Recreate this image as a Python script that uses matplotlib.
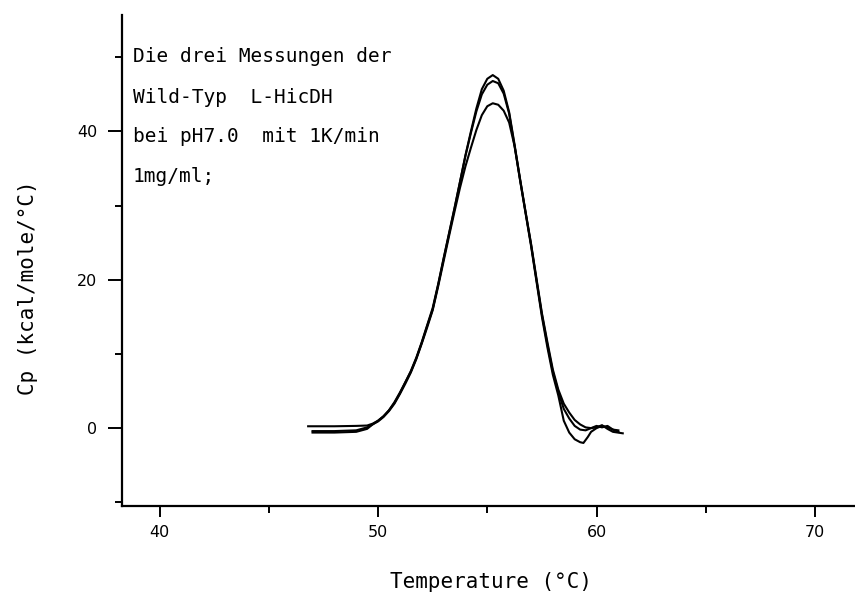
import matplotlib.pyplot as plt

# DSC scans of wild-type L-HicDH, three runs (temperature in deg C, Cp in kcal/mole/deg C)
t_run1 = [46.8, 48.0, 49.0, 49.5, 49.75, 50.0, 50.25, 50.5, 50.75, 51.0, 51.25, 51.5,
          51.75, 52.0, 52.25, 52.5, 52.75, 53.0, 53.25, 53.5, 53.75, 54.0, 54.25, 54.5,
          54.75, 55.0, 55.25, 55.5, 55.75, 56.0, 56.25, 56.5, 56.75, 57.0, 57.25, 57.5,
          57.75, 58.0, 58.25, 58.5, 58.75, 59.0, 59.25, 59.5, 59.75, 60.0, 60.25, 60.5,
          60.75, 61.2]
cp_run1 = [0.25, 0.25, 0.3, 0.35, 0.6, 1.0, 1.6, 2.4, 3.4, 4.7, 6.2, 7.6,
           9.4, 11.5, 13.8, 16.0, 19.3, 22.8, 26.2, 29.6, 33.2, 36.8, 40.0, 43.1,
           45.7, 47.1, 47.6, 47.1, 45.5, 42.6, 38.2, 33.6, 29.2, 24.9, 20.2, 15.5,
           11.6, 7.9, 5.2, 3.3, 2.1, 1.1, 0.5, 0.1, 0.0, 0.1, 0.4, -0.1,
           -0.5, -0.7]

t_run2 = [47.0, 48.0, 49.0, 49.5, 49.75, 50.0, 50.25, 50.5, 50.75, 51.0, 51.25, 51.5,
          51.75, 52.0, 52.25, 52.5, 52.75, 53.0, 53.25, 53.5, 53.75, 54.0, 54.25, 54.5,
          54.75, 55.0, 55.25, 55.5, 55.75, 56.0, 56.25, 56.5, 56.75, 57.0, 57.25, 57.5,
          57.75, 58.0, 58.25, 58.5, 58.75, 59.0, 59.25, 59.5, 59.75, 60.0, 60.25, 60.5,
          60.75, 61.0]
cp_run2 = [-0.6, -0.6, -0.5, -0.1, 0.5, 1.0, 1.6, 2.4, 3.5, 4.8, 6.2, 7.7,
           9.5, 11.6, 13.9, 16.2, 19.4, 22.9, 26.3, 29.7, 33.2, 36.7, 39.8, 42.7,
           45.0, 46.3, 46.8, 46.5, 45.1, 42.4, 38.0, 33.5, 29.1, 24.8, 20.0, 15.3,
           11.3, 7.6, 4.9, 2.6, 1.3, 0.3, -0.2, -0.3, 0.0, 0.3, 0.1, 0.3,
           -0.2, -0.3]

t_run3 = [47.0, 48.0, 49.0, 49.5, 49.75, 50.0, 50.25, 50.5, 50.75, 51.0, 51.25, 51.5,
          51.75, 52.0, 52.25, 52.5, 52.75, 53.0, 53.25, 53.5, 53.75, 54.0, 54.25, 54.5,
          54.75, 55.0, 55.25, 55.5, 55.75, 56.0, 56.25, 56.5, 56.75, 57.0, 57.25, 57.5,
          57.75, 58.0, 58.25, 58.5, 58.75, 59.0, 59.25, 59.4, 59.6, 59.75, 60.0, 60.25,
          60.5, 60.75, 61.0]
cp_run3 = [-0.4, -0.4, -0.3, 0.1, 0.5, 0.9, 1.5, 2.3, 3.3, 4.6, 6.0, 7.5,
           9.3, 11.4, 13.6, 15.9, 19.1, 22.5, 25.9, 29.2, 32.4, 35.3, 37.8, 40.2,
           42.2, 43.4, 43.8, 43.6, 42.8, 41.2, 38.0, 33.4, 29.0, 24.6, 19.8, 15.0,
           10.9, 7.2, 4.4, 1.0, -0.6, -1.5, -1.9, -2.0, -1.2, -0.5, 0.0, 0.3,
           0.1, -0.2, -0.5]

note_lines = ["Die drei Messungen der", "Wild-Typ  L-HicDH",
              "bei pH7.0  mit 1K/min", "1mg/ml;"]
note_y = [0.904, 0.821, 0.741, 0.660]

xticks_major = [40, 50, 60, 70]
xticks_minor = [45, 55, 65]
yticks_major = [0, 20, 40]
yticks_minor = [-10, 10, 30, 50]

plt.rcParams['font.family'] = ['DejaVu Sans']
mono = 'DejaVu Sans Mono'

fig = plt.figure(figsize=(8.55, 5.94), dpi=100)
ax = fig.add_axes([122 / 855, 88 / 594, 733 / 855, 491 / 594])

for t, cp in [(t_run1, cp_run1), (t_run2, cp_run2), (t_run3, cp_run3)]:
    ax.plot(t, cp, color='black', lw=1.5)

ax.set_xlim(38.28, 71.83)
ax.set_ylim(-10.5, 55.7)
ax.set_xticks(xticks_major)
ax.set_xticks(xticks_minor, minor=True)
ax.set_yticks(yticks_major)
ax.set_yticks(yticks_minor, minor=True)

for side in ['top', 'right']:
    ax.spines[side].set_visible(False)
for side in ['left', 'bottom']:
    ax.spines[side].set_linewidth(1.6)

ax.tick_params(axis='y', which='major', length=10, width=1.4, pad=8, labelsize=11.5)
ax.tick_params(axis='y', which='minor', length=5, width=1.4)
ax.tick_params(axis='x', which='major', length=8, width=1.4, pad=6, labelsize=11.5)
ax.tick_params(axis='x', which='minor', length=5, width=1.4)

for line, y in zip(note_lines, note_y):
    ax.text(0.015, y, line, transform=ax.transAxes, fontsize=14, family=mono,
            va='baseline', ha='left')

fig.text(491 / 855, 1 - 582 / 594, 'Temperature (°C)', fontsize=15, family=mono,
         ha='center', va='center')
fig.text(28 / 855, 1 - 288 / 594, 'Cp (kcal/mole/°C)', fontsize=15, family=mono,
         rotation=90, ha='center', va='center')

fig.savefig('out.png', dpi=100)
